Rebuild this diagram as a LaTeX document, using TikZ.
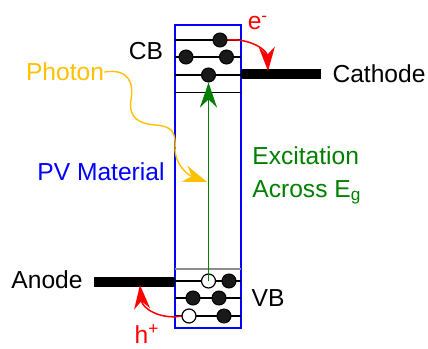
\documentclass[tikz,border=0pt]{standalone}
\usepackage{fontspec}
\setmainfont{Liberation Sans}
\usetikzlibrary{arrows.meta, positioning}
\definecolor{photon_gold}{RGB}{255,192,0}
\definecolor{excite_green}{RGB}{0,128,0}
\tikzset{
    band_box/.style={
        rectangle, draw=blue, line width=1pt, inner sep=0pt,
        minimum width=33pt, minimum height=151.5pt
    },
    band_line/.style={
        draw=black, line width=0.75pt
    },
    elec/.style={
        circle, fill=black!90, draw=black, line width=0.5pt,
        minimum size=7pt, inner sep=0pt
    },
    hole/.style={
        circle, fill=white, draw=black, line width=0.6pt,
        minimum size=7pt, inner sep=0pt
    },
    contact_bar/.style={
        rectangle, fill=black, inner sep=0pt, minimum width=40pt, minimum height=5pt
    },
    lbl/.style={
        font=\fontsize{12.3}{16.5}\selectfont, inner sep=0pt, align=left
    },
    carrier_arrow/.style={
        -{Stealth[length=12pt, width=8pt]}, draw=red, line width=0.75pt
    },
    excite_arrow/.style={
        -{Stealth[length=12.5pt, width=8.5pt]}, draw=excite_green, line width=0.75pt
    },
    photon_arrow/.style={
        -{Stealth[length=12pt, width=8.5pt]}, draw=photon_gold, line width=0.7pt
    }
}

\begin{document}
\begin{tikzpicture}[x=0.5pt, y=-0.5pt]
\useasboundingbox (0,0) rectangle (428,348);

% material and its levels
\node[band_box] (pv) at (208,176.5) {};
\foreach \y in {40,57,75,92.5,281,298,316}
    \draw[band_line] (175,\y) -- (241,\y);
\draw[band_line, draw=black!45] (175,269) -- (241,269);

% contacts
\node[contact_bar] (cathode_bar) at (281,74) {};
\node[contact_bar, minimum width=40.5pt] (anode_bar) at (134.5,282) {};
\coordinate (cath_in) at (268,71);
\coordinate (an_in) at (140,285);
\coordinate (ph_end) at (207,182);

% conduction band
\node[elec] (e1) at (220,40) {};
\node[elec] (e2) at (186,57) {};
\node[elec] (e3) at (226.5,57) {};
\node[elec] (e4) at (208.5,75) {};

% valence band
\node[hole] (h1) at (208.5,281) {};
\node[elec] (e5) at (229,281) {};
\node[elec] (e6) at (193,298) {};
\node[elec] (e7) at (219,298) {};
\node[hole] (h2) at (189,316) {};
\node[elec] (e8) at (224,316) {};

% labels
\node[lbl] (cb) at (146,51) {CB};
\node[lbl] (vb) at (268,298) {VB};
\node[lbl] (cathode) at (379,74) {Cathode};
\node[lbl] (anode) at (47,280) {Anode};
\node[lbl, text=photon_gold] (photon) at (65,72) {Photon};
\node[lbl, text=blue] (pvmat) at (101,172) {PV Material};
\node[lbl, text=excite_green, anchor=west] (excite) at (252,175.5) {Excitation\\Across E\textsubscript{g}};
\node[lbl, text=red] (elabel) at (258,23) {e\textsuperscript{-}};
\node[lbl, text=red] (hlabel) at (147,334) {h\textsuperscript{+}};

% arrows
\draw[excite_arrow] (h1.center) -- (e4.south);
\draw[carrier_arrow] (e1.east) .. controls (250,38) and (267,50) .. (cath_in);
\draw[carrier_arrow] (h2.west) .. controls (160,320) and (142,308) .. (an_in);
\draw[photon_arrow] (photon.east) .. controls (130,68) and (134,85) .. (131,100)
    .. controls (128,118) and (140,124) .. (155,125)
    .. controls (172,126) and (176,132) .. (175,148)
    .. controls (175,165) and (188,175) .. (ph_end);
\end{tikzpicture}
\end{document}
